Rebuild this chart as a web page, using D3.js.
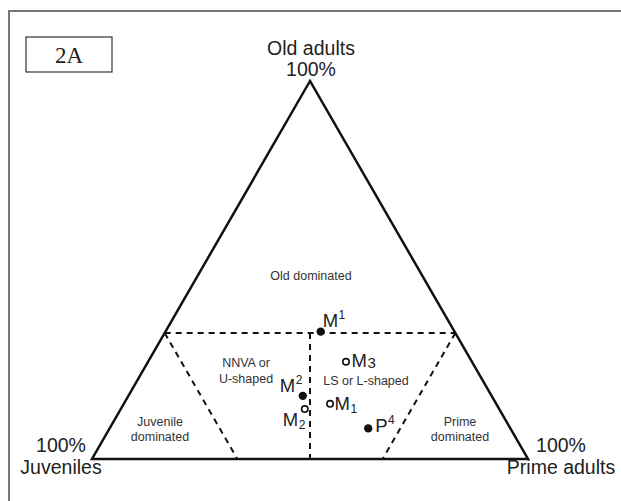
<!DOCTYPE html>
<html><head><meta charset="utf-8">
<script src="https://cdn.jsdelivr.net/npm/d3@7"></script>
<style>body{margin:0;background:#fff}svg{display:block}</style>
</head><body>
<svg id="c" width="621" height="501"></svg>
<script>
// ---- data ----
const pointNames   = ["M", "M", "M", "M", "M", "P"];
const pointIndex   = ["1", "3", "2", "2", "1", "4"];
const indexKind    = ["sup", "sub", "sup", "sub", "sub", "sup"];
const pointFilled  = [true, false, true, false, false, true];
const oldShare     = [0.337, 0.257, 0.167, 0.132, 0.146, 0.081];
const primeShare   = [0.356, 0.454, 0.400, 0.422, 0.473, 0.593];
const juvShare     = oldShare.map((o, i) => +(1 - o - primeShare[i]).toFixed(3));
const boundaries   = [1/3, 2/3]; // old-dominated threshold, juvenile/prime dominated thresholds
const regionNames  = [["Old dominated"], ["NNVA or", "U-shaped"], ["LS or L-shaped"], ["Juvenile", "dominated"], ["Prime", "dominated"]];
const vertexLabels = [["Old adults", "100%"], ["100%", "Juveniles"], ["100%", "Prime adults"]];
const panelLabel   = "2A";

// ---- scales ----
const svg = d3.select("#c");
const xs = d3.scaleLinear().domain([0, 1]).range([92, 528]);   // along base (prime share + old/2)
const ys = d3.scaleLinear().domain([0, 1]).range([459, 81]);   // old share
const P = (o, p) => [xs(p + o / 2), ys(o)];

// frame
svg.append("path").attr("d", "M9,501V11H621").attr("fill", "none").attr("stroke", "#777").attr("stroke-width", 2);

// panel label box
svg.append("rect").attr("x", 26).attr("y", 37).attr("width", 86).attr("height", 35)
  .attr("fill", "#fff").attr("stroke", "#333").attr("stroke-width", 1.2);
svg.append("text").attr("x", 69).attr("y", 63).attr("text-anchor", "middle")
  .attr("font-family", "Liberation Serif, DejaVu Serif, serif").attr("font-size", 23).attr("fill", "#222").text(panelLabel);

// dashed boundaries
const t = boundaries[0], u = boundaries[1];
const dashed = [
  [P(t, 0), P(t, 1 - t)],                 // old = 1/3
  [P(t, (1 - t) / 2), P(0, 0.5)],         // juv = prime
  [P(t, 0), P(0, 1 - u)],                 // juv = 2/3
  [P(t, u), P(0, u)]                      // prime = 2/3
];
svg.selectAll("line.d").data(dashed).join("line").attr("class", "d")
  .attr("x1", d => d[0][0]).attr("y1", d => d[0][1]).attr("x2", d => d[1][0]).attr("y2", d => d[1][1])
  .attr("stroke", "#111").attr("stroke-width", 2).attr("stroke-dasharray", "6,5");

// triangle
const tri = [P(1, 0), P(0, 0), P(0, 1)];
svg.append("path").attr("d", d3.line()(tri) + "Z").attr("fill", "none").attr("stroke", "#111").attr("stroke-width", 2.5).attr("stroke-linejoin", "miter");

// vertex labels
const vfont = "Liberation Sans, Arial, sans-serif";
const vpos = [[311, 55, 76], [61, 452, 474], [561, 452, 474]];
vertexLabels.forEach((lines, i) => {
  lines.forEach((s, k) => {
    svg.append("text").attr("x", vpos[i][0]).attr("y", vpos[i][1 + k]).attr("text-anchor", "middle")
      .attr("font-family", vfont).attr("font-size", 19.5).attr("fill", "#222").text(s);
  });
});

// region labels
const rpos = [[311, 280], [246, 367], [366, 385], [160, 426], [460, 426]];
const roff = [[0], [0, 16], [0], [0, 15], [0, 15]];
regionNames.forEach((lines, i) => {
  lines.forEach((s, k) => {
    svg.append("text").attr("x", rpos[i][0]).attr("y", rpos[i][1] + roff[i][k]).attr("text-anchor", "middle")
      .attr("font-family", vfont).attr("font-size", 12.5).attr("fill", "#333").text(s);
  });
});

// points
const pts = oldShare.map((o, i) => ({o, p: primeShare[i], j: juvShare[i], name: pointNames[i], idx: pointIndex[i], kind: indexKind[i], filled: pointFilled[i]}));
svg.selectAll("circle.pt").data(pts).join("circle").attr("class", "pt")
  .attr("cx", d => P(d.o, d.p)[0]).attr("cy", d => P(d.o, d.p)[1])
  .attr("r", d => d.filled ? 4.2 : 3.2)
  .attr("fill", d => d.filled ? "#111" : "#fff")
  .attr("stroke", "#111").attr("stroke-width", d => d.filled ? 0 : 1.6);

// point labels (offsets relative to point)
const loff = [[2, -4.5], [5.5, 5], [-23, -4], [-22, 16.5], [4.5, 6], [7, 3.5]];
const idxShift = [-8, 1.5, -8, 3, 3, -8];
pts.forEach((d, i) => {
  const [x, y] = P(d.o, d.p);
  const tx = svg.append("text").attr("x", x + loff[i][0]).attr("y", y + loff[i][1])
    .attr("font-family", vfont).attr("font-size", 18.5).attr("fill", "#222");
  tx.append("tspan").text(d.name);
  tx.append("tspan").attr("font-size", d.idx === "3" ? 15 : 12).attr("dx", 0.5).attr("dy", idxShift[i]).text(d.idx);
});
</script>
</body></html>
